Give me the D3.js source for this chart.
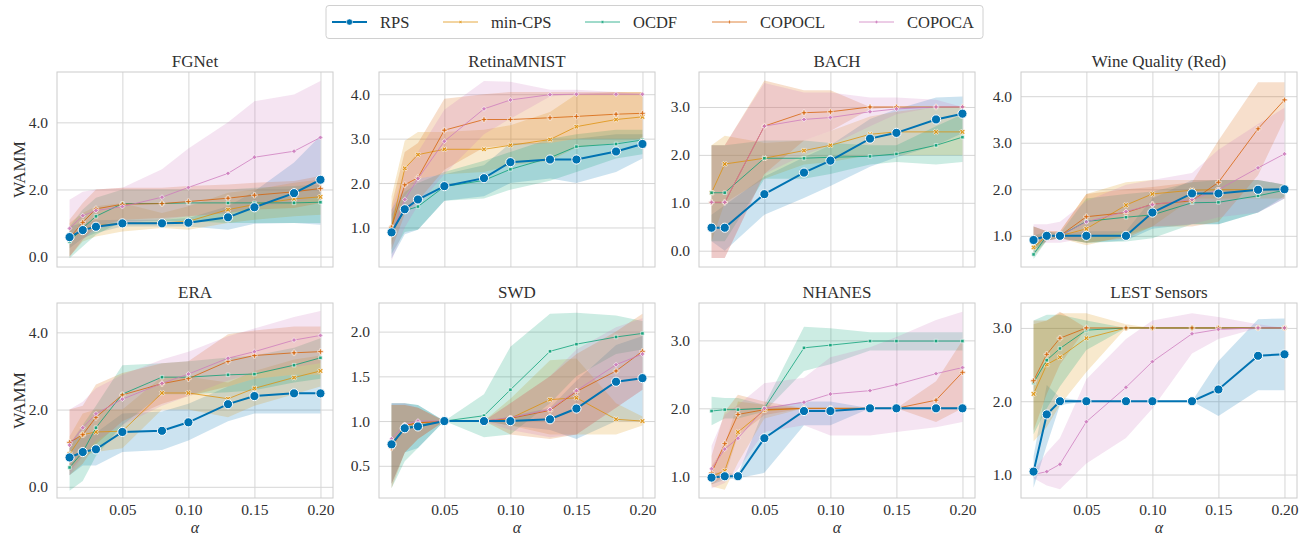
<!DOCTYPE html>
<html>
<head>
<meta charset="utf-8">
<script src="https://cdn.jsdelivr.net/npm/d3@7"></script>
<style>
  body { margin: 0; background: #fff; }
  text { font-family: "Liberation Serif", "DejaVu Serif", serif; fill: #303030; }
</style>
</head>
<body>
<svg id="chart" width="1301" height="537"></svg>
<script>
// ---- data -------------------------------------------------------------
const alphas = [0.01, 0.02, 0.03, 0.05, 0.08, 0.10, 0.13, 0.15, 0.18, 0.20];
const methods = ["RPS", "min-CPS", "OCDF", "COPOCL", "COPOCA"];
const methodColors = ["#0173b2", "#de8f05", "#029e73", "#d55e00", "#cc78bc"];
const datasetNames = ["FGNet", "RetinaMNIST", "BACH", "Wine Quality (Red)",
                      "ERA", "SWD", "NHANES", "LEST Sensors"];
const xTickValues = [0.05, 0.10, 0.15, 0.20];
const yTickValues = [[0, 2, 4], [1, 2, 3, 4], [0, 1, 2, 3], [1, 2, 3, 4],
                     [0, 2, 4], [0.5, 1, 1.5, 2], [1, 2, 3], [1, 2, 3]];
const yDomains = [[-0.31, 5.50], [0.11, 4.50], [-0.34, 3.73], [0.33, 4.52],
                  [-0.29, 4.76], [0.14, 2.32], [0.68, 3.55], [0.68, 3.34]];

// rows: RPS, min-CPS, OCDF, COPOCL, COPOCA
const fgnetMean = [
  [0.58, 0.79, 0.89, 0.99, 0.99, 1.01, 1.17, 1.47, 1.89, 2.29],
  [0.50, 0.80, 0.92, 1.00, 1.00, 1.05, 1.40, 1.55, 1.72, 1.78],
  [0.45, 0.85, 1.20, 1.58, 1.58, 1.60, 1.60, 1.60, 1.60, 1.62],
  [0.55, 1.02, 1.42, 1.56, 1.58, 1.64, 1.74, 1.83, 1.93, 2.03],
  [0.84, 1.22, 1.37, 1.49, 1.77, 2.06, 2.48, 2.96, 3.14, 3.55]];
const fgnetLow = [
  [0.25, 0.55, 0.70, 0.90, 0.90, 0.90, 0.80, 0.98, 1.00, 0.95],
  [0.00, 0.45, 0.60, 0.75, 0.85, 0.80, 1.00, 1.10, 1.20, 1.25],
  [-0.05, 0.30, 0.65, 1.05, 1.05, 1.05, 1.00, 1.00, 1.00, 1.00],
  [0.00, 0.50, 0.90, 1.10, 1.15, 1.20, 1.30, 1.40, 1.45, 1.60],
  [0.00, 0.50, 0.80, 1.00, 1.10, 1.20, 1.30, 1.50, 1.60, 1.80]];
const fgnetHigh = [
  [0.90, 1.00, 1.08, 1.10, 1.10, 1.15, 1.50, 1.95, 2.80, 3.60],
  [1.00, 1.30, 1.50, 1.60, 1.30, 1.50, 1.90, 2.00, 2.20, 2.30],
  [0.90, 1.40, 1.75, 2.00, 2.00, 2.00, 2.00, 2.05, 2.10, 2.15],
  [1.10, 1.60, 2.00, 2.05, 2.05, 2.10, 2.15, 2.20, 2.25, 2.40],
  [1.69, 1.93, 2.00, 2.05, 2.60, 3.22, 4.00, 4.63, 4.83, 5.23]];

const retinaMean = [
  [0.89, 1.41, 1.63, 1.93, 2.11, 2.47, 2.53, 2.53, 2.71, 2.88],
  [1.00, 2.33, 2.64, 2.76, 2.76, 2.85, 2.98, 3.27, 3.43, 3.49],
  [0.90, 1.38, 1.47, 1.92, 2.06, 2.31, 2.57, 2.82, 2.88, 2.97],
  [1.00, 1.96, 2.12, 3.19, 3.43, 3.43, 3.47, 3.50, 3.55, 3.57],
  [0.85, 1.63, 2.10, 2.94, 3.67, 3.87, 3.99, 4.00, 4.00, 4.00]];
const retinaLow = [
  [0.30, 0.85, 0.95, 1.60, 1.70, 2.00, 2.10, 2.00, 2.25, 2.55],
  [0.60, 1.70, 2.10, 2.20, 2.25, 2.40, 2.50, 2.80, 2.90, 3.00],
  [0.40, 0.90, 0.95, 1.60, 1.65, 1.85, 2.05, 2.25, 2.55, 2.65],
  [0.50, 1.30, 1.60, 2.30, 2.80, 2.85, 2.90, 3.00, 3.00, 3.00],
  [0.25, 1.00, 1.50, 2.20, 3.10, 3.45, 3.95, 4.00, 4.00, 4.00]];
const retinaHigh = [
  [1.40, 1.90, 2.10, 2.20, 2.40, 2.90, 2.90, 3.00, 3.10, 3.10],
  [1.70, 2.95, 3.15, 3.15, 3.20, 3.30, 3.60, 4.00, 4.05, 4.05],
  [1.30, 1.80, 2.00, 2.25, 2.50, 2.70, 3.00, 3.10, 3.20, 3.20],
  [1.50, 2.70, 2.90, 3.90, 4.00, 4.05, 4.05, 4.05, 4.05, 4.05],
  [1.40, 2.30, 2.70, 3.65, 4.30, 4.28, 4.10, 4.10, 4.05, 4.00]];

const bachMean = [
  [0.48, 0.48, null, 1.18, 1.63, 1.88, 2.34, 2.46, 2.74, 2.86],
  [1.21, 1.81, null, 1.93, 2.09, 2.20, 2.43, 2.48, 2.48, 2.48],
  [1.21, 1.21, null, 1.93, 1.93, 1.95, 1.97, 2.02, 2.20, 2.37],
  [1.01, 1.01, null, 2.60, 2.88, 2.90, 3.00, 3.00, 3.00, 3.00],
  [1.01, 1.01, null, 2.60, 2.74, 2.78, 2.90, 2.96, 3.00, 3.00]];
const bachLow = [
  [0.20, 0.00, null, 0.75, 1.10, 1.35, 1.75, 1.95, 2.20, 2.45],
  [0.20, 1.00, null, 1.50, 1.80, 1.85, 2.00, 2.00, 2.00, 2.00],
  [0.20, 0.20, null, 1.50, 1.50, 1.60, 1.80, 1.85, 1.80, 1.85],
  [-0.15, -0.15, null, 1.60, 2.30, 2.50, 2.95, 3.00, 3.00, 3.00],
  [-0.15, -0.15, null, 1.60, 2.00, 2.20, 2.60, 2.85, 3.00, 3.00]];
const bachHigh = [
  [0.75, 0.95, null, 1.55, 1.95, 2.20, 2.75, 2.95, 3.20, 3.22],
  [2.20, 2.40, null, 2.25, 2.30, 2.50, 2.80, 2.90, 3.00, 3.00],
  [2.20, 2.20, null, 2.30, 2.30, 2.25, 2.20, 2.20, 2.60, 2.85],
  [2.20, 2.20, null, 3.55, 3.35, 3.35, 3.00, 3.00, 3.00, 3.00],
  [2.20, 2.20, null, 3.50, 3.30, 3.30, 3.20, 3.20, 3.15, 3.00]];

const wineMean = [
  [0.91, 1.00, 1.00, 1.00, 1.00, 1.50, 1.91, 1.91, 1.99, 2.00],
  [0.75, 1.00, 1.00, 1.15, 1.66, 1.90, 1.98, 1.99, 1.99, 2.00],
  [0.60, 1.00, 1.00, 1.31, 1.40, 1.45, 1.71, 1.72, 1.86, 1.98],
  [0.90, 1.00, 1.00, 1.41, 1.50, 1.68, 1.75, 2.15, 3.30, 3.92],
  [0.92, 1.00, 1.00, 1.30, 1.52, 1.67, 1.78, 1.99, 2.46, 2.76]];
const wineLow = [
  [0.60, 0.90, 0.95, 0.85, 0.90, 1.15, 1.25, 1.25, 1.50, 1.80],
  [0.55, 0.90, 0.95, 0.80, 1.00, 1.20, 1.80, 1.80, 1.80, 1.80],
  [0.50, 0.90, 0.95, 0.85, 0.88, 0.95, 1.25, 1.25, 1.50, 1.85],
  [0.70, 0.90, 0.95, 0.85, 0.95, 1.20, 1.20, 1.30, 2.30, 3.50],
  [0.85, 0.85, 0.85, 0.95, 1.10, 1.20, 1.25, 1.40, 1.50, 1.80]];
const wineHigh = [
  [1.20, 1.10, 1.05, 1.10, 1.10, 1.80, 2.20, 2.20, 2.20, 2.10],
  [1.20, 1.10, 1.10, 1.90, 2.15, 2.20, 2.20, 2.20, 2.20, 2.10],
  [1.00, 1.10, 1.05, 1.80, 1.90, 1.95, 2.15, 2.20, 2.20, 2.10],
  [1.20, 1.10, 1.10, 1.90, 2.00, 2.05, 2.15, 3.05, 4.30, 4.30],
  [1.25, 1.25, 1.30, 1.75, 2.10, 2.20, 2.35, 2.85, 3.40, 3.75]];

const eraMean = [
  [0.76, 0.90, 0.97, 1.42, 1.45, 1.67, 2.14, 2.35, 2.42, 2.42],
  [0.85, 1.35, 1.42, 1.44, 2.43, 2.43, 2.28, 2.55, 2.83, 3.00],
  [0.50, 0.90, 1.53, 2.40, 2.84, 2.84, 2.90, 2.92, 3.15, 3.34],
  [1.15, 1.35, 1.80, 2.38, 2.67, 2.80, 3.25, 3.40, 3.47, 3.50],
  [1.08, 1.53, 1.89, 2.27, 2.68, 2.92, 3.33, 3.50, 3.80, 3.92]];
const eraLow = [
  [0.30, 0.55, 0.55, 0.90, 0.95, 1.20, 1.70, 1.90, 1.90, 1.90],
  [0.40, 0.80, 0.90, 1.00, 2.00, 2.00, 1.80, 2.10, 2.40, 2.60],
  [-0.10, 0.15, 0.80, 1.60, 2.40, 2.40, 2.45, 2.50, 2.70, 2.80],
  [0.30, 0.60, 1.10, 1.70, 2.15, 2.35, 2.60, 2.80, 2.90, 2.90],
  [0.30, 0.80, 1.20, 1.60, 2.10, 2.35, 2.75, 2.95, 3.10, 3.20]];
const eraHigh = [
  [1.20, 1.30, 1.40, 1.90, 1.95, 2.15, 2.60, 2.80, 2.90, 2.90],
  [1.30, 1.90, 2.00, 2.00, 2.85, 2.85, 2.70, 3.00, 3.30, 3.40],
  [1.10, 1.60, 2.10, 3.15, 3.20, 3.25, 3.35, 3.40, 3.60, 3.85],
  [2.00, 2.10, 2.65, 2.95, 3.20, 3.25, 3.95, 4.05, 4.15, 4.15],
  [2.00, 2.20, 2.55, 2.90, 3.30, 3.50, 3.90, 4.10, 4.40, 4.55]];

const swdMean = [
  [0.74, 0.92, 0.94, 1.00, 1.00, 1.00, 1.02, 1.14, 1.44, 1.48],
  [0.72, 0.95, 0.98, 1.00, 1.00, 1.03, 1.24, 1.26, 1.02, 1.00],
  [0.75, 0.93, 0.95, 1.00, 1.06, 1.35, 1.78, 1.86, 1.94, 1.98],
  [0.70, 0.95, 0.98, 1.00, 1.00, 1.03, 1.12, 1.33, 1.56, 1.78],
  [0.80, 0.96, 1.00, 1.00, 1.00, 1.04, 1.13, 1.34, 1.63, 1.75]];
const swdLow = [
  [0.30, 0.65, 0.70, 1.00, 1.00, 0.95, 0.90, 0.80, 1.00, 1.00],
  [0.30, 0.65, 0.80, 1.00, 1.00, 0.95, 0.85, 0.85, 0.85, 0.95],
  [0.25, 0.55, 0.70, 1.00, 0.82, 0.85, 1.20, 1.50, 1.75, 1.80],
  [0.25, 0.65, 0.80, 1.00, 1.00, 0.85, 0.80, 0.85, 1.15, 1.35],
  [0.30, 0.65, 0.80, 1.00, 1.00, 0.90, 0.82, 0.85, 1.15, 1.35]];
const swdHigh = [
  [1.20, 1.20, 1.18, 1.00, 1.00, 1.05, 1.15, 1.45, 1.85, 1.95],
  [1.18, 1.18, 1.15, 1.00, 1.00, 1.25, 1.68, 1.70, 1.20, 1.05],
  [1.20, 1.20, 1.18, 1.00, 1.30, 1.83, 2.20, 2.21, 2.18, 2.12],
  [1.18, 1.18, 1.15, 1.00, 1.00, 1.20, 1.50, 1.75, 2.00, 2.20],
  [1.20, 1.20, 1.15, 1.00, 1.00, 1.20, 1.50, 1.80, 2.05, 2.15]];

const nhanesMean = [
  [0.98, 1.00, 1.00, 1.56, 1.96, 1.96, 2.00, 2.00, 2.00, 2.00],
  [1.00, 1.08, 1.65, 1.97, 2.00, 2.00, 2.00, 2.00, 2.00, 2.00],
  [1.96, 1.98, 1.98, 2.00, 2.89, 2.93, 2.99, 2.99, 2.99, 2.99],
  [1.05, 1.48, 1.91, 1.98, 2.00, 2.00, 2.00, 2.00, 2.12, 2.53],
  [1.11, 1.40, 1.56, 2.00, 2.09, 2.21, 2.26, 2.35, 2.51, 2.60]];
const nhanesLow = [
  [0.88, 0.95, 0.97, 1.05, 1.75, 1.75, 2.00, 2.00, 2.00, 2.00],
  [0.85, 0.80, 1.20, 1.85, 2.00, 2.00, 2.00, 2.00, 2.00, 2.00],
  [1.75, 1.85, 1.85, 1.95, 2.55, 2.65, 2.85, 2.85, 2.85, 2.85],
  [0.88, 1.00, 1.60, 1.90, 2.00, 2.00, 2.00, 2.00, 1.80, 2.00],
  [0.82, 0.90, 1.10, 1.65, 1.75, 1.60, 1.60, 1.65, 1.72, 1.80]];
const nhanesHigh = [
  [1.05, 1.05, 1.03, 2.00, 2.10, 2.10, 2.00, 2.00, 2.00, 2.00],
  [1.15, 1.45, 2.10, 2.05, 2.00, 2.00, 2.00, 2.00, 2.00, 2.00],
  [2.17, 2.15, 2.15, 2.05, 3.20, 3.18, 3.12, 3.12, 3.12, 3.12],
  [1.30, 1.95, 2.20, 2.10, 2.00, 2.00, 2.00, 2.00, 2.40, 3.00],
  [1.45, 1.90, 2.05, 2.37, 2.45, 2.75, 2.90, 3.05, 3.30, 3.42]];

const lestMean = [
  [1.04, 1.82, 2.00, 2.00, 2.00, 2.00, 2.00, 2.16, 2.62, 2.64],
  [2.10, 2.50, 2.60, 2.86, 3.00, 3.00, 3.00, 3.00, 3.00, 3.00],
  [2.25, 2.56, 2.72, 2.97, 3.00, 3.00, 3.00, 3.00, 3.00, 3.00],
  [2.28, 2.64, 2.86, 3.00, 3.00, 3.00, 3.00, 3.00, 3.00, 3.00],
  [1.00, 1.04, 1.14, 1.72, 2.19, 2.54, 2.92, 2.98, 3.00, 3.00]];
const lestLow = [
  [0.82, 1.40, 1.95, 2.00, 2.00, 2.00, 2.00, 1.80, 2.15, 2.15],
  [1.45, 1.65, 1.95, 2.40, 3.00, 3.00, 3.00, 3.00, 3.00, 3.00],
  [1.55, 1.90, 2.20, 2.70, 3.00, 3.00, 3.00, 3.00, 3.00, 3.00],
  [1.60, 2.10, 2.50, 3.00, 3.00, 3.00, 3.00, 3.00, 3.00, 3.00],
  [0.95, 0.85, 0.80, 1.15, 1.50, 1.90, 2.65, 2.85, 3.00, 3.00]];
const lestHigh = [
  [1.25, 2.22, 2.05, 2.00, 2.00, 2.00, 2.00, 2.55, 3.12, 3.13],
  [3.05, 3.10, 3.20, 3.20, 3.05, 3.00, 3.00, 3.00, 3.00, 3.00],
  [3.10, 3.18, 3.18, 3.10, 3.00, 3.00, 3.00, 3.00, 3.00, 3.00],
  [3.10, 3.10, 3.22, 3.00, 3.00, 3.00, 3.00, 3.00, 3.00, 3.00],
  [1.05, 1.30, 1.50, 2.30, 2.85, 3.10, 3.20, 3.15, 3.05, 3.00]];

const panelMeans = [fgnetMean, retinaMean, bachMean, wineMean, eraMean, swdMean, nhanesMean, lestMean];
const panelLows  = [fgnetLow, retinaLow, bachLow, wineLow, eraLow, swdLow, nhanesLow, lestLow];
const panelHighs = [fgnetHigh, retinaHigh, bachHigh, wineHigh, eraHigh, swdHigh, nhanesHigh, lestHigh];

// ---- layout -----------------------------------------------------------
const serif = '"Liberation Serif", "DejaVu Serif", serif';
const svg = d3.select("#chart").attr("font-family", serif);
const colLeft = [57, 379, 699, 1021];
const rowTop = [72, 303];
const panelW = 276, panelH = 195;
const gridColor = "#d6d6d6";
const textColor = "#303030";

// marker shapes per method
const markerFor = [
  { type: d3.symbolCircle, size: 66, rot: 0 },
  { type: d3.symbolCross, size: 17, rot: 45 },   // filled X
  { type: d3.symbolSquare, size: 12, rot: 0 },
  { type: d3.symbolCross, size: 17, rot: 0 },    // filled plus
  { type: d3.symbolSquare, size: 12, rot: 45 }   // diamond
];

const x = d3.scaleLinear().domain([0.0005, 0.2095]);

function styleAxis(a) {
  a.attr("font-family", serif);
  a.select(".domain").remove();
  a.selectAll("line").attr("stroke", gridColor).attr("stroke-width", 1);
  a.selectAll("text").attr("font-size", "15.5px").attr("fill", textColor)
    .attr("font-family", serif);
}

datasetNames.forEach((name, p) => {
  const col = p % 4, row = Math.floor(p / 4);
  const left = colLeft[col], top = rowTop[row];
  const xs = x.copy().range([left, left + panelW]);
  const ys = d3.scaleLinear().domain(yDomains[p]).range([top + panelH, top]);
  const g = svg.append("g");

  // grid and tick labels
  g.append("g")
    .attr("transform", `translate(${left},0)`)
    .call(d3.axisLeft(ys).tickValues(yTickValues[p]).tickSize(-panelW)
      .tickFormat(d3.format(".1f")).tickPadding(9))
    .call(styleAxis);

  const xa = g.append("g")
    .attr("transform", `translate(0,${top + panelH})`)
    .call(d3.axisBottom(xs).tickValues(xTickValues).tickSize(-panelH)
      .tickFormat(d3.format(".2f")).tickPadding(6))
    .call(styleAxis);
  if (row === 0) xa.selectAll("text").remove();

  // frame
  g.append("rect").attr("x", left).attr("y", top).attr("width", panelW).attr("height", panelH)
    .attr("fill", "none").attr("stroke", "#cccccc").attr("stroke-width", 1);

  // clip
  const clipId = "clip" + p;
  svg.append("clipPath").attr("id", clipId).append("rect")
    .attr("x", left).attr("y", top).attr("width", panelW).attr("height", panelH);
  const plot = g.append("g").attr("clip-path", `url(#${clipId})`);

  const series = methods.map((m, k) => alphas.map((a, i) => ({
    a, v: panelMeans[p][k][i], lo: panelLows[p][k][i], hi: panelHighs[p][k][i]
  })).filter(d => d.v != null));

  // confidence bands
  const area = d3.area().x(d => xs(d.a)).y0(d => ys(d.lo)).y1(d => ys(d.hi));
  series.forEach((s, k) => {
    plot.append("path").attr("d", area(s))
      .attr("fill", methodColors[k]).attr("fill-opacity", 0.2).attr("stroke", "none");
  });

  // mean lines: comparison methods first, RPS on top
  const line = d3.line().x(d => xs(d.a)).y(d => ys(d.v));
  [1, 2, 3, 4, 0].forEach(k => {
    const isMain = k === 0;
    plot.append("path").attr("d", line(series[k]))
      .attr("fill", "none").attr("stroke", methodColors[k])
      .attr("stroke-width", isMain ? 2 : 1)
      .attr("stroke-opacity", isMain ? 1 : 0.75);
    const mk = markerFor[k];
    const sym = d3.symbol().type(mk.type).size(mk.size);
    plot.selectAll(null).data(series[k]).join("path")
      .attr("d", sym)
      .attr("transform", d => `translate(${xs(d.a)},${ys(d.v)}) rotate(${mk.rot})`)
      .attr("fill", methodColors[k])
      .attr("fill-opacity", isMain ? 1 : 0.8)
      .attr("stroke", "#fff").attr("stroke-width", isMain ? 1 : 0.6);
  });

  // title
  g.append("text").attr("x", left + panelW / 2).attr("y", top - 5)
    .attr("text-anchor", "middle").attr("font-size", "17px").attr("fill", textColor).text(name);

  if (col === 0) {
    g.append("text")
      .attr("transform", `translate(25,${top + panelH / 2}) rotate(-90)`)
      .attr("text-anchor", "middle").attr("font-size", "17px").attr("fill", textColor).text("WAMM");
  }
  if (row === 1) {
    g.append("text").attr("x", left + panelW / 2).attr("y", 533)
      .attr("text-anchor", "middle").attr("font-size", "16px").attr("font-style", "italic")
      .attr("fill", textColor).text("α");
  }
});

// ---- legend -----------------------------------------------------------
const legend = svg.append("g");
legend.append("rect").attr("x", 326).attr("y", 5.5).attr("width", 657).attr("height", 33)
  .attr("rx", 3).attr("fill", "#fff").attr("stroke", "#d0d0d0").attr("stroke-width", 1);
const handleX = [332, 443, 585, 712, 859];
methods.forEach((m, k) => {
  const hx = handleX[k], hy = 22;
  const isMain = k === 0;
  legend.append("line").attr("x1", hx).attr("x2", hx + 35).attr("y1", hy).attr("y2", hy)
    .attr("stroke", methodColors[k]).attr("stroke-width", isMain ? 2 : 1)
    .attr("stroke-opacity", isMain ? 1 : 0.75);
  const mk = markerFor[k];
  legend.append("path")
    .attr("d", d3.symbol().type(mk.type).size(isMain ? 30 : 6)())
    .attr("transform", `translate(${hx + 17.5},${hy}) rotate(${mk.rot})`)
    .attr("fill", methodColors[k]).attr("fill-opacity", isMain ? 1 : 0.8)
    .attr("stroke", "#fff").attr("stroke-width", isMain ? 0.6 : 0.3);
  legend.append("text").attr("x", hx + 48).attr("y", hy + 5.5)
    .attr("font-size", "16.5px").attr("fill", textColor).text(m);
});
</script>
</body>
</html>
